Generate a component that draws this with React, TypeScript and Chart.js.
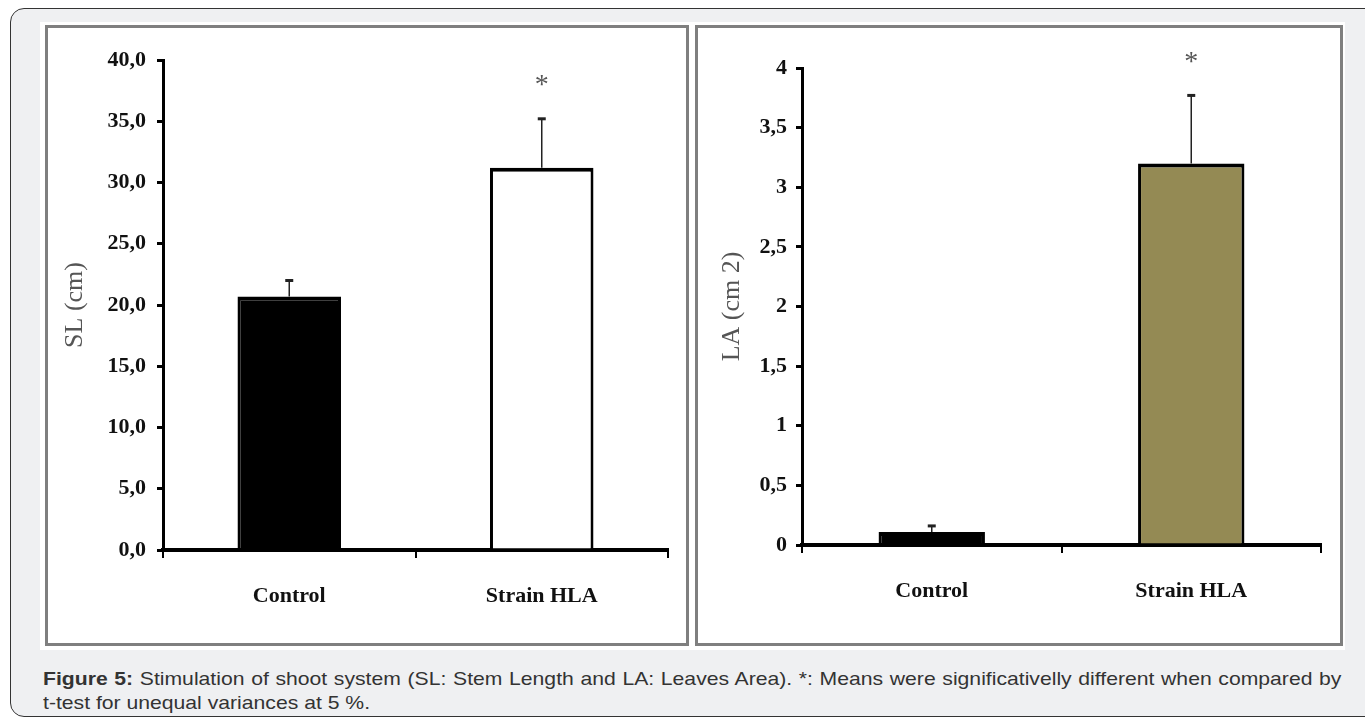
import React, { useEffect, useRef } from 'react';
import { Chart, registerables } from 'chart.js';

Chart.register(...registerables);

// ---------- data ----------
const categories = ['Control', 'Strain HLA'];

const slMeans = [20.7, 31.2];
const slErrors = [1.3, 4.0];
const slTickLabels = ['0,0', '5,0', '10,0', '15,0', '20,0', '25,0', '30,0', '35,0', '40,0'];
const slColors = ['#000000', '#ffffff'];

const laMeans = [0.11, 3.2];
const laErrors = [0.05, 0.57];
const laTickLabels = ['0', '0,5', '1', '1,5', '2', '2,5', '3', '3,5', '4'];
const laColors = ['#000000', '#948a54'];

const significant = [false, true];

const SERIF = '"Liberation Serif", "Times New Roman", serif';
const SANS = '"Liberation Sans", Arial, sans-serif';

const errorBarPlugin = {
  id: 'errorBars',
  afterDatasetsDraw(chart: any, _args: any, opts: any) {
    const { ctx } = chart;
    const meta = chart.getDatasetMeta(0);
    const yScale = chart.scales.y;
    const values = chart.data.datasets[0].data as number[];
    meta.data.forEach((bar: any, i: number) => {
      const v = values[i];
      const e = opts.errors[i];
      const x = bar.x;
      const yTop = yScale.getPixelForValue(v);
      const yErr = yScale.getPixelForValue(v + e);
      ctx.save();
      ctx.strokeStyle = '#222';
      ctx.lineWidth = 1.5;
      ctx.beginPath();
      ctx.moveTo(x, yTop);
      ctx.lineTo(x, yErr);
      ctx.stroke();
      ctx.lineWidth = 3;
      ctx.beginPath();
      ctx.moveTo(x - 4, yErr);
      ctx.lineTo(x + 4, yErr);
      ctx.stroke();
      if (opts.sig[i]) {
        ctx.fillStyle = '#555';
        ctx.font = '28px ' + SERIF;
        ctx.textAlign = 'center';
        ctx.textBaseline = 'middle';
        ctx.fillText('*', x, yErr - 33);
      }
      ctx.restore();
    });
  },
};

type Layout = {
  padTop: number;
  padRight: number;
  yWidth: number;
  xHeight: number;
  titlePad: number;
  tickPad: number;
};

function makeConfig(
  values: number[],
  colors: string[],
  errors: number[],
  tickLabels: string[],
  max: number,
  step: number,
  title: string,
  L: Layout
): any {
  return {
    type: 'bar',
    data: {
      labels: categories,
      datasets: [
        {
          data: values,
          backgroundColor: colors,
          borderColor: '#000',
          borderWidth: { top: 4, left: 3, right: 3, bottom: 0 },
          borderSkipped: 'start',
          categoryPercentage: 1,
          barPercentage: 0.41,
        },
      ],
    },
    options: {
      responsive: false,
      animation: false,
      devicePixelRatio: 1,
      layout: { padding: { top: L.padTop, right: L.padRight, left: 0, bottom: 0 } },
      plugins: {
        legend: { display: false },
        tooltip: { enabled: false },
        errorBars: { errors, sig: significant },
      },
      scales: {
        x: {
          ticks: {
            padding: 25,
            color: '#111',
            font: { family: SERIF, size: 22, weight: 'bold' },
            maxRotation: 0,
          },
          grid: {
            drawOnChartArea: false,
            drawTicks: true,
            tickLength: 8,
            color: '#000',
            lineWidth: 2,
            offset: true,
          },
          border: { display: true, color: '#000', width: 4 },
          afterFit: (s: any) => {
            s.height = L.xHeight;
          },
        },
        y: {
          min: 0,
          max,
          ticks: {
            stepSize: step,
            padding: L.tickPad,
            color: '#111',
            font: { family: SERIF, size: 22, weight: 'bold' },
            callback: (_v: any, i: number) => tickLabels[i],
          },
          grid: {
            drawOnChartArea: false,
            drawTicks: true,
            tickLength: 6,
            color: '#000',
            lineWidth: 3,
          },
          border: { display: true, color: '#000', width: 3 },
          title: {
            display: true,
            text: title,
            color: '#555',
            font: { family: SERIF, size: 26, weight: 'normal' },
            padding: { top: L.titlePad, bottom: 0 },
          },
          afterFit: (s: any) => {
            s.width = L.yWidth;
          },
        },
      },
    },
    plugins: [errorBarPlugin],
  };
}

function BarPanel(props: { left: number; width: number; config: () => any }) {
  const ref = useRef<HTMLCanvasElement | null>(null);
  useEffect(() => {
    if (!ref.current) return;
    const chart = new Chart(ref.current, props.config());
    return () => chart.destroy();
  }, []);
  return (
    <canvas
      ref={ref}
      width={props.width}
      height={615}
      style={{
        position: 'absolute',
        left: props.left,
        top: 28,
        width: props.width,
        height: 615,
      }}
    />
  );
}

const captionStyle: React.CSSProperties = {
  position: 'absolute',
  left: 43,
  fontFamily: SANS,
  fontSize: 18.5,
  lineHeight: '24px',
  color: '#333',
  whiteSpace: 'nowrap',
  transform: 'scaleX(1.144)',
  transformOrigin: 'left top',
};

export default function App() {
  return (
    <div
      style={{
        position: 'fixed',
        left: 0,
        top: 0,
        width: 1365,
        height: 717,
        overflow: 'hidden',
        background: '#ffffff',
      }}
    >
      <div
        style={{
          position: 'absolute',
          left: 10,
          top: 8,
          width: 1380,
          height: 707,
          border: '1.5px solid #333',
          borderRadius: 14,
          background: '#eff0f2',
        }}
      />
      <div
        style={{
          position: 'absolute',
          left: 40,
          top: 22,
          width: 1305,
          height: 628,
          background: '#ffffff',
        }}
      />
      <div
        style={{
          position: 'absolute',
          left: 45,
          top: 25,
          width: 638,
          height: 615,
          border: '3px solid #7f7f7f',
        }}
      />
      <div
        style={{
          position: 'absolute',
          left: 695,
          top: 25,
          width: 642,
          height: 615,
          border: '3px solid #7f7f7f',
        }}
      />
      <BarPanel
        left={48}
        width={638}
        config={() =>
          makeConfig(slMeans, slColors, slErrors, slTickLabels, 40, 5, 'SL (cm)', {
            padTop: 32,
            padRight: 18,
            yWidth: 115,
            xHeight: 93,
            titlePad: 12,
            tickPad: 11,
          })
        }
      />
      <BarPanel
        left={698}
        width={642}
        config={() =>
          makeConfig(laMeans, laColors, laErrors, laTickLabels, 4, 0.5, 'LA (cm 2)', {
            padTop: 40,
            padRight: 19,
            yWidth: 104,
            xHeight: 98,
            titlePad: 19,
            tickPad: 9,
          })
        }
      />
      <div
        style={{
          ...captionStyle,
          top: 667,
          width: 1135,
          textAlign: 'justify',
          textAlignLast: 'justify' as any,
        }}
      >
        <b>Figure 5:</b> Stimulation of shoot system (SL: Stem Length and LA: Leaves Area). *: Means were
        significativelly different when compared by
      </div>
      <div style={{ ...captionStyle, top: 691 }}>t-test for unequal variances at 5 %.</div>
    </div>
  );
}
